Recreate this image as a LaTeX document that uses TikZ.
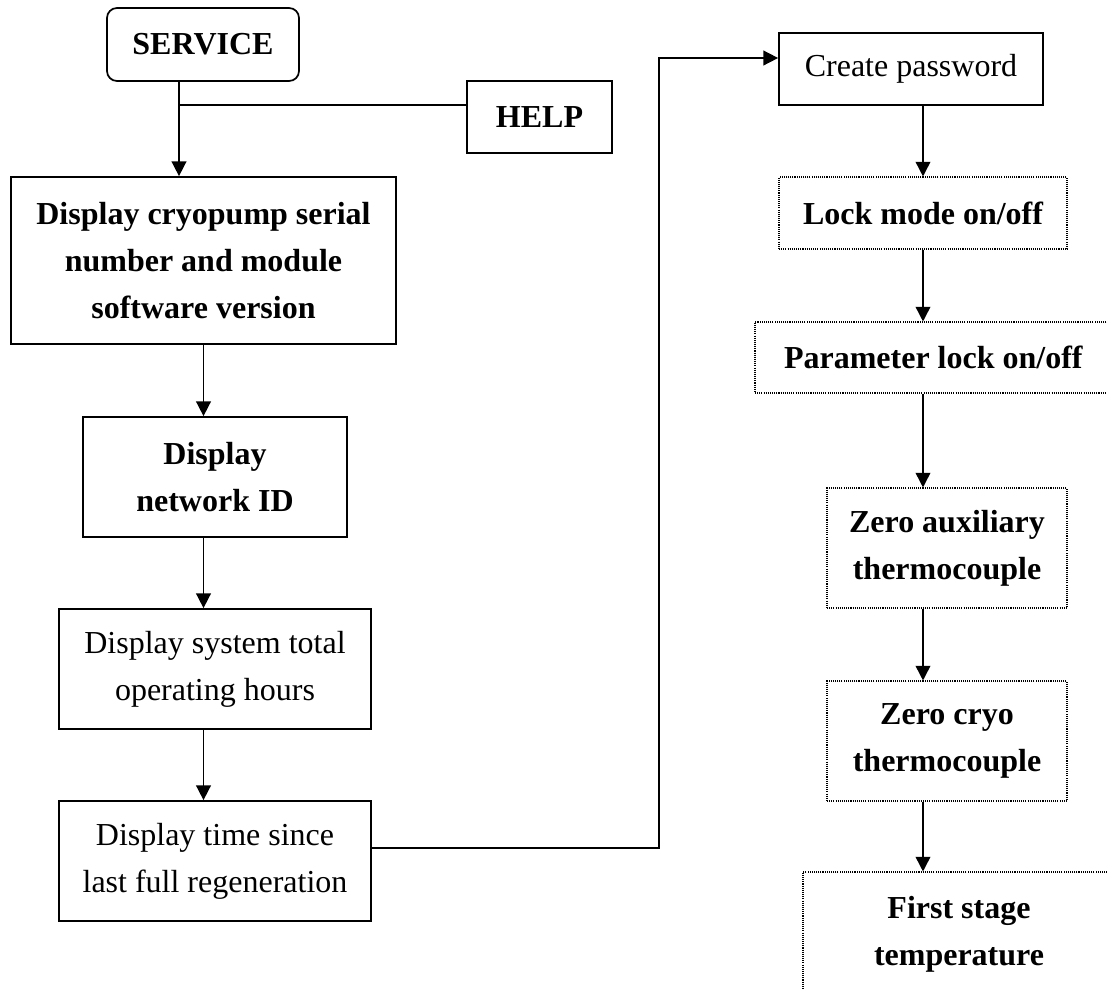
\documentclass[tikz,border=0pt]{standalone}
\usepackage{fontspec}
\setmainfont{Liberation Serif}
\usetikzlibrary{arrows.meta,calc}
\begin{document}
\begin{tikzpicture}[x=0.75pt,y=-0.75pt,
  base/.style={draw=black,inner sep=0pt,align=center,
    font={\fontsize{24}{35.25}\selectfont}},
  solidbox/.style={base,line width=1.3pt},
  dotbox/.style={base,line width=0.8pt,dash pattern=on 0.8pt off 0.8pt},
  bold/.style={font={\fontsize{24}{35.25}\selectfont\bfseries}},
  arr/.style={line width=1.2pt,-{Triangle[length=11pt,width=11pt]}},
  ln/.style={line width=1.2pt}]
\useasboundingbox (0,0) rectangle (1107,989);
\fill[white] (0,0) rectangle (1107,989);
\clip (0,0) rectangle (1107,989);

% left column
\node[solidbox,bold,rounded corners=7.5pt,minimum width=192*0.75pt,minimum height=73*0.75pt]
  (service) at (203,44.5) {SERVICE};
\node[solidbox,bold,minimum width=145*0.75pt,minimum height=72*0.75pt]
  (help) at (539.5,117) {HELP};
\node[solidbox,bold,minimum width=385*0.75pt,minimum height=167*0.75pt]
  (cryo) at (203.5,260.5) {Display cryopump serial\\number and module\\software version};
\node[solidbox,bold,minimum width=264*0.75pt,minimum height=120*0.75pt]
  (net) at (215,477) {Display\\network ID};
\node[solidbox,minimum width=312*0.75pt,minimum height=120*0.75pt]
  (sys) at (215,669) {Display system total\\operating hours};
\node[solidbox,minimum width=312*0.75pt,minimum height=120*0.75pt]
  (regen) at (215,861) {Display time since\\last full regeneration};

% right column
\node[solidbox,minimum width=264*0.75pt,minimum height=72*0.75pt]
  (pw) at (911,69) {Create password};
\node[dotbox,bold,minimum width=288*0.75pt,minimum height=72*0.75pt]
  (lock) at (923,213) {Lock mode on/off};
\node[dotbox,bold,minimum width=362*0.75pt,minimum height=71*0.75pt]
  (param) at (936,357.5) {\hspace*{-4pt}Parameter lock on/off};
\node[dotbox,bold,minimum width=240*0.75pt,minimum height=120*0.75pt]
  (aux) at (947,548) {Zero auxiliary\\thermocouple};
\node[dotbox,bold,minimum width=240*0.75pt,minimum height=120*0.75pt]
  (cryo2) at (947,741) {Zero cryo\\thermocouple};
\node[dotbox,bold,minimum width=312*0.75pt,minimum height=124*0.75pt]
  (first) at (959,934) {First stage\\temperature};

% connectors
\coordinate (j) at (179,105);
\coordinate (turn) at (659,58);
\coordinate (out) at ($(regen.north east)+(0,48)$);
\draw[ln] (service.south -| j) -- (j);
\draw[arr] (j) -- (cryo.north -| j);
\draw[ln] (j) -- (j -| help.west);
\draw[arr] (cryo.south) -- (net.north -| cryo.south);
\draw[arr] (net.south -| cryo.south) -- (sys.north -| cryo.south);
\draw[arr] (sys.south -| cryo.south) -- (regen.north -| cryo.south);
\draw[arr] (out) -- (out -| turn) -- (turn) -- (turn -| pw.west);
\draw[arr] (pw.south -| lock.north) -- (lock.north);
\draw[arr] (lock.south) -- (param.north -| lock.south);
\draw[arr] (param.south -| lock.south) -- (aux.north -| lock.south);
\draw[arr] (aux.south -| lock.south) -- (cryo2.north -| lock.south);
\draw[arr] (cryo2.south -| lock.south) -- (first.north -| lock.south);
\end{tikzpicture}
\end{document}
